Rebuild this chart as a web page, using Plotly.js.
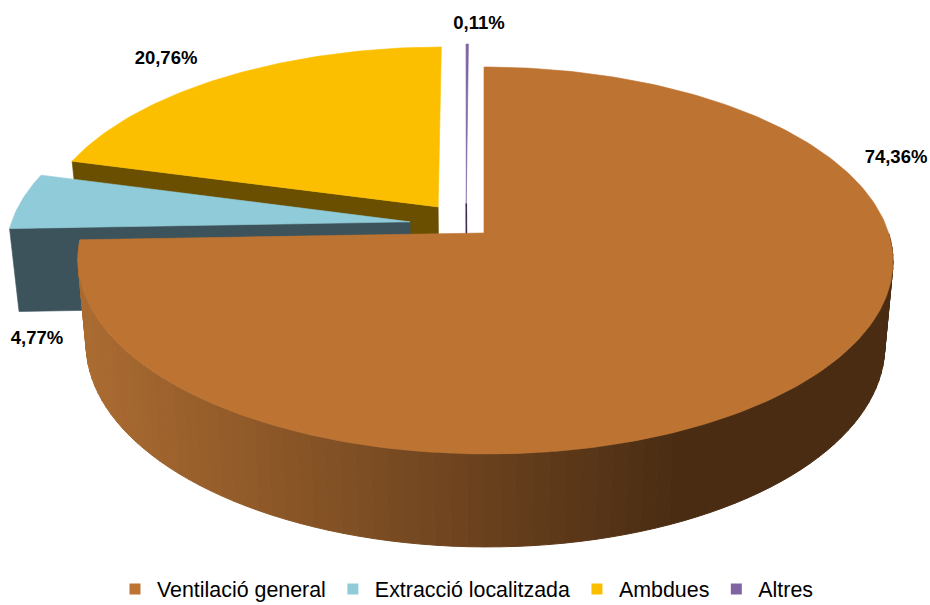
<!DOCTYPE html>
<html>
<head>
<meta charset="utf-8">
<script src="https://cdn.plot.ly/plotly-3.0.1.min.js"></script>
<style>html,body{margin:0;padding:0;background:#fff}#chart{width:930px;height:605px}</style>
</head>
<body>
<div id="chart"></div>
<script>
// ---- data ----
const categories = ['Ventilació general', 'Extracció localitzada', 'Ambdues', 'Altres'];
const shares = [74.36, 4.77, 20.76, 0.11];

// ---- styles ----
const faceColors = ['#bd7433', '#8fcbd9', '#fcbf00', '#8064a2'];
const cutColors = ['#4a2c13', '#3d535c', '#6a4f00', '#3a2d4d'];
const sideLight = [170, 107, 49];
const sideDark = [74, 44, 19];

// ---- 3D pie geometry: projection of the unit disc onto the page ----
const explodeX = [0, -0.185, -0.116, -0.045];
const explodeY = [0, 0.0585, 0.14, 0.161];
const centre = { x: 484, y: 233 };
const radiusX = 403.4, tiltA = -156.5, tiltC = 0.142, tiltE = -0.0036;
const depthX = 0.98, depthK = 1.0444, depthT = 72.8;
const labelX = [896, 37, 166, 479];
const labelY = [158, 339, 59, 24];

function project(X, Y) {
  const w = 1 + tiltC * Y + tiltE * X;
  return [centre.x + radiusX * X / w, (tiltA * Y + centre.y) / w];
}
function extrude(p) {
  return [centre.x + (p[0] - centre.x) * depthX, depthK * p[1] + depthT];
}
function rim(i, deg) {
  const a = deg * Math.PI / 180;
  return project(Math.sin(a) + explodeX[i], Math.cos(a) + explodeY[i]);
}
function poly(points, color, lineWidth, lineColor) {
  return {
    type: 'scatter', mode: 'lines', fill: 'toself', fillcolor: color,
    x: points.map(p => p[0]), y: points.map(p => p[1]),
    line: { color: lineColor || color, width: lineWidth === undefined ? 0.6 : lineWidth },
    hoverinfo: 'skip', showlegend: false, cliponaxis: false
  };
}

// start / end angle of every slice, clockwise from 12 o'clock
const total = shares.reduce((a, b) => a + b, 0);
const starts = [], ends = [];
shares.reduce((acc, v, i) => {
  starts[i] = acc / total * 360;
  ends[i] = (acc + v) / total * 360;
  return acc + v;
}, 0);

function topFace(i) {
  const pts = [project(explodeX[i], explodeY[i])];
  const n = Math.max(2, Math.ceil((ends[i] - starts[i]) / 1));
  for (let k = 0; k <= n; k++) pts.push(rim(i, starts[i] + (ends[i] - starts[i]) * k / n));
  pts.push(pts[0]);
  return poly(pts, faceColors[i]);
}
function cutFace(i) {
  const apex = project(explodeX[i], explodeY[i]);
  const edge = rim(i, starts[i]);
  return poly([apex, edge, extrude(edge), extrude(apex), apex], cutColors[i]);
}
function sideColor(x) {
  const t = Math.min(1, Math.max(0, (x - 85) / 595));
  const c = sideLight.map((v, k) => Math.round(v + (sideDark[k] - v) * t));
  return 'rgb(' + c.join(',') + ')';
}

const traces = [];

// legend entries (drawn by Plotly's own legend)
categories.forEach((name, i) => traces.push({
  type: 'scatter', mode: 'markers', x: [null], y: [null], name: name,
  marker: { symbol: 'square', size: 11, color: faceColors[i] }, hoverinfo: 'skip'
}));

// Ambdues
traces.push(cutFace(2), topFace(2));
// Altres
const altApex = project(explodeX[3], explodeY[3]);
traces.push(Object.assign(poly([altApex, extrude(altApex)], cutColors[3], 1.6), { fill: 'none' }));
traces.push(topFace(3));
// Extracció localitzada
traces.push(cutFace(1), topFace(1));
// Ventilació general: curved wall as thin strips so that it can shade across
const step = 2;
for (let d = starts[0] + 90; d < ends[0]; d += step) {
  const d2 = Math.min(ends[0], d + step);
  const a = rim(0, d), b = rim(0, d2);
  traces.push(poly([a, b, extrude(b), extrude(a), a], sideColor((a[0] + b[0]) / 2), 1));
}
traces.push(topFace(0));

// value labels
traces.push({
  type: 'scatter', mode: 'text', x: labelX, y: labelY,
  text: shares.map(v => v.toFixed(2).replace('.', ',') + '%'),
  textposition: 'middle center',
  textfont: { family: '"Liberation Sans", Arial, sans-serif', size: 18.5, color: '#000', weight: 700 },
  hoverinfo: 'skip', showlegend: false, cliponaxis: false
});

const layout = {
  width: 930, height: 605,
  margin: { l: 0, r: 0, t: 0, b: 0, autoexpand: false },
  paper_bgcolor: '#fff', plot_bgcolor: '#fff',
  xaxis: { range: [0, 930], visible: false, fixedrange: true },
  yaxis: { range: [605, 0], visible: false, fixedrange: true },
  showlegend: true,
  legend: {
    orientation: 'h', x: 0.1215, xanchor: 'left', y: 16 / 605, yanchor: 'middle',
    bgcolor: 'rgba(0,0,0,0)', traceorder: 'normal', itemwidth: 34,
    font: { family: '"Liberation Sans", Arial, sans-serif', size: 21.4, color: '#000' }
  }
};
Plotly.newPlot('chart', traces, layout, { staticPlot: true, displayModeBar: false });
</script>
</body>
</html>
